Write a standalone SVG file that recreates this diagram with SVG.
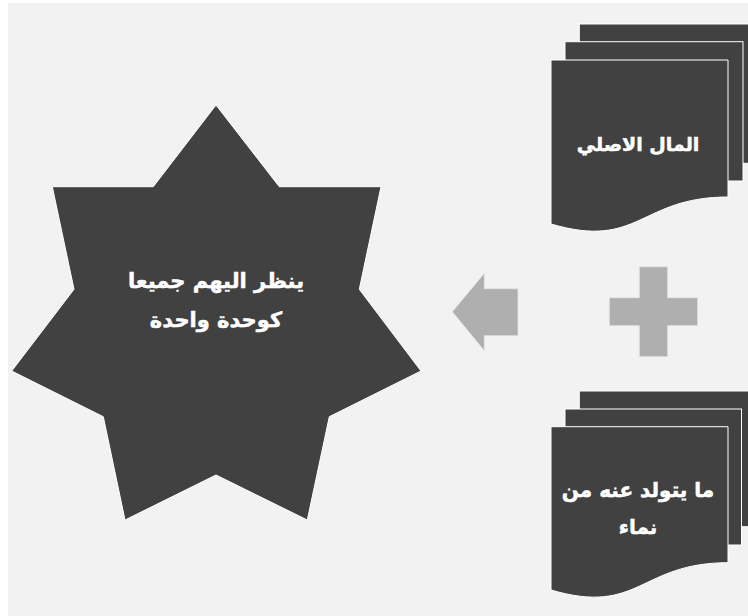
<svg xmlns="http://www.w3.org/2000/svg" width="748" height="616" viewBox="0 0 748 616">
<style>
.bg{fill:#f2f2f2}
.dark{fill:#414141;stroke:#ffffff;stroke-width:1}
.light{fill:#afafaf;stroke:#e6e6e6;stroke-width:0.8}
.lbl{fill:#ffffff;stroke:#ffffff;stroke-width:0.5;font-family:"DejaVu Sans",sans-serif;font-weight:bold;font-size:20px;text-anchor:middle}
</style>
<rect x="0" y="0" width="748" height="616" fill="#ffffff"/>
<rect class="bg" x="8" y="3" width="740" height="613"/>
<g id="star">
<polygon class="dark" points="216,105 279.3,186.7 381,186.7 359.3,289.3 421,371 329.3,416.7 307.3,520 216,475 125,520 103.3,416.7 11.7,371 74,289.3 52.3,186.7 153.3,186.7"/>
<text class="lbl" x="216" y="288" direction="rtl" style="font-size:21px">ينظر اليهم جميعا</text>
<text class="lbl" x="216" y="327" direction="rtl" style="font-size:21px">كوحدة واحدة</text>
</g>
<g id="doc-top">
<rect class="dark" x="579.3" y="24" width="180" height="139.3"/>
<rect class="dark" x="565" y="41.7" width="178" height="139.3"/>
<path class="dark" d="M551,60 L728,60 L728,197 C639.5,197 639.5,250 551,224 Z"/>
<text class="lbl" x="638" y="151" direction="rtl" style="font-size:19px">المال الاصلي</text>
</g>
<g id="doc-bottom">
<rect class="dark" x="579.3" y="391" width="180" height="135.7"/>
<rect class="dark" x="565" y="409" width="176.5" height="136"/>
<path class="dark" d="M551,426.7 L728,426.7 L728,562.7 C639.5,562.7 639.5,616 551,590 Z"/>
<text class="lbl" x="638" y="497" direction="rtl">ما يتولد عنه من</text>
<text class="lbl" x="638" y="534" direction="rtl">نماء</text>
</g>
<g id="connectors">
<polygon id="plus" class="light" points="639.3,266.7 667.7,266.7 667.7,297.7 697.7,297.7 697.7,325.7 667.7,325.7 667.7,356.7 639.3,356.7 639.3,325.7 609.3,325.7 609.3,297.7 639.3,297.7"/>
<polygon id="arrow" class="light" points="452.3,311.7 484.3,273.3 484.3,288.7 518,288.7 518,335.7 484.3,335.7 484.3,350.7"/>
</g>
</svg>
